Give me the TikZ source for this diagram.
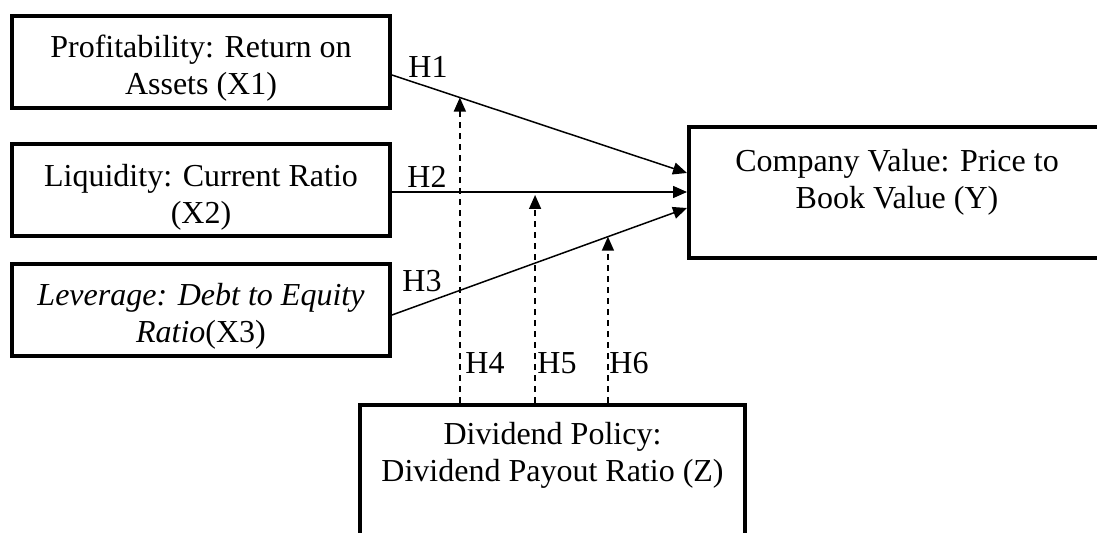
\documentclass[tikz,border=0pt]{standalone}
\usepackage{fontspec}
\setmainfont{Liberation Serif}
\usetikzlibrary{arrows.meta, positioning}

\begin{document}
\begin{tikzpicture}[x=0.5pt, y=-0.5pt,
  font=\fontsize{16}{18.5}\selectfont,
  box/.style={draw, line width=2pt, minimum width=189pt, minimum height=46pt, inner sep=0pt},
  txt/.style={align=center, inner sep=0pt},
  lab/.style={inner sep=0pt},
  e/.style={-{Triangle[length=7pt, width=6pt]}, line width=0.75pt},
  m/.style={e, dash pattern=on 3pt off 2.5pt}]

  \useasboundingbox (0,0) rectangle (1097,533);
  \clip (0,0) rectangle (1097,533);

  \node[box] (x1) at (201,62.5) {};
  \node[txt] (x1t) at (201,68.5) {Profitability: Return on\\Assets (X1)};
  \node[box] (x2) at (201,190) {};
  \node[txt] (x2t) at (201,197) {Liquidity: Current Ratio\\(X2)};
  \node[box] (x3) at (201,310) {};
  \node[txt] (x3t) at (201,316) {\textit{Leverage: Debt to Equity}\\\textit{Ratio}(X3)};
  \node[box, minimum width=208pt, minimum height=65.5pt] (y) at (897,192.5) {};
  \node[txt] (yt) at (897,182) {Company Value: Price to\\Book Value (Y)};
  \node[box, minimum width=192.5pt, minimum height=77.5pt] (z) at (552.5,482.5) {};
  \node[txt] (zt) at (552.5,455.5) {Dividend Policy:\\Dividend Payout Ratio (Z)};

  \draw[e] ([yshift=-6.25pt]x1.east) -- coordinate[pos=0.23] (h1m) ([yshift=9.75pt]y.west);
  \draw[e] ([yshift=-1pt]x2.east) -- coordinate[pos=0.485] (h2m) ([yshift=-1pt]x2.east -| y.west);
  \draw[e] ([yshift=-2.5pt]x3.east) -- coordinate[pos=0.732] (h3m) ([yshift=-7.75pt]y.west);

  \draw[m] (z.north -| h1m) -- (h1m);
  \draw[m] (z.north -| h2m) -- ([yshift=-1.5pt]h2m);
  \draw[m] (z.north -| h3m) -- (h3m);

  \node[lab] (h1) at (428,67)  {H1};
  \node[lab] (h2) at (427,177) {H2};
  \node[lab] (h3) at (422,281) {H3};
  \node[lab] (h4) at (485,363) {H4};
  \node[lab] (h5) at (557,363) {H5};
  \node[lab] (h6) at (629,363) {H6};
\end{tikzpicture}
\end{document}
